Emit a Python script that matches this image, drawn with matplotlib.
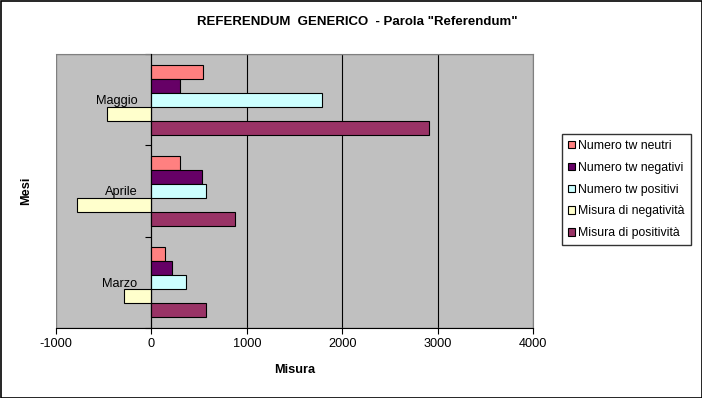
import numpy as np
import matplotlib
matplotlib.use('Agg')
import matplotlib.pyplot as plt
from matplotlib.patches import Patch, Rectangle

plt.rcParams['font.family'] = ['Liberation Sans', 'DejaVu Sans']
plt.rcParams['axes.unicode_minus'] = False

mesi = ['Marzo', 'Aprile', 'Maggio']
serie = ['Numero tw neutri', 'Numero tw negativi', 'Numero tw positivi',
         'Misura di negatività', 'Misura di positività']
neutri = [140, 298, 546]
negativi = [221, 529, 304]
positivi = [361, 577, 1788]
mis_negativita = [-283, -776, -462]
mis_positivita = [577, 881, 2907]
valori = [neutri, negativi, positivi, mis_negativita, mis_positivita]
colori = ['#FF8080', '#660066', '#CCFFFF', '#FFFFCC', '#993366']

fig = plt.figure(figsize=(7.02, 3.98), dpi=100)
ax = fig.add_axes([56 / 702, 1 - 328 / 398, 477 / 702, 274 / 398])
ax.set_facecolor('#C0C0C0')

y = np.arange(len(mesi))
h = 0.153
for i, (vals, col) in enumerate(zip(valori, colori)):
    ax.barh(y + (2 - i) * h, vals, height=h, color=col, edgecolor='black',
            linewidth=0.8, label=serie[i], zorder=3)

ax.set_xlim(-1000, 4000)
ax.set_ylim(-0.5, 2.5)
ax.set_xticks(np.arange(-1000, 4001, 1000))
ax.tick_params(axis='x', length=4, width=0.8, pad=3, labelsize=9.2, direction='out')
ax.xaxis.grid(True, color='black', linewidth=0.8)
ax.set_axisbelow(True)
for gl, t in zip(ax.get_xgridlines(), ax.get_xticks()):
    if t in (-1000, 4000):
        gl.set_visible(False)

# asse y che incrocia a 0
ax.spines['left'].set_position(('data', 0))
ax.spines['left'].set_color('black')
ax.spines['left'].set_linewidth(0.8)
ax.spines['left'].set_zorder(4)
ax.set_yticks(y)
ax.set_yticklabels(mesi, fontsize=9.2)
ax.set_yticks(np.arange(-0.5, 3, 1), minor=True)
ax.tick_params(axis='y', which='major', length=0, pad=10)
ax.tick_params(axis='y', which='minor', length=4, width=0.8)
for s in ('top', 'right'):
    ax.spines[s].set_color('#808080')
ax.spines['bottom'].set_color('black')
ax.spines['bottom'].set_linewidth(0.8)
ax.add_patch(Rectangle((0, 0), 1, 1, transform=ax.transAxes, fill=False,
                       edgecolor='#808080', linewidth=1, zorder=1))

fig.text(357 / 702, 1 - 22 / 398, 'REFERENDUM  GENERICO  - Parola "Referendum"',
         ha='center', va='center', fontsize=9.5, fontweight='bold',
         family=['Liberation Sans Narrow', 'Liberation Sans'])
fig.text(26 / 702, 1 - 191 / 398, 'Mesi', rotation=90, ha='center', va='center',
         fontsize=9.2, fontweight='bold')
fig.text(295 / 702, 1 - 370 / 398, 'Misura', ha='center', va='center',
         fontsize=9.2, fontweight='bold')

handles = [Patch(facecolor=c, edgecolor='black', linewidth=0.8) for c in colori]
leg = fig.legend(handles, serie, loc='upper left',
                 bbox_to_anchor=(562 / 702, 1 - 134 / 398), borderaxespad=0,
                 fontsize=8.8, handlelength=0.55, handleheight=0.55, handletextpad=0.3,
                 labelspacing=0.8, borderpad=0.5, fancybox=False, frameon=True)
leg.get_frame().set_edgecolor('black')
leg.get_frame().set_linewidth(1)

fig.add_artist(Rectangle((0.5 / 702, 0.5 / 398), 701 / 702, 397 / 398,
                         transform=fig.transFigure, fill=False,
                         edgecolor='black', linewidth=1.2))

fig.savefig('out.png', dpi=100)
